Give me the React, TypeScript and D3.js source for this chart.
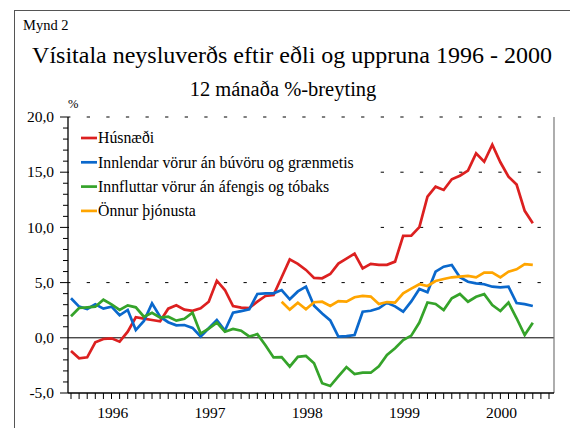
import React, { useEffect } from 'react';
import * as d3 from 'd3';

// ---- data (monthly, Jan 1996 – Oct 2000) ----
const years = ['1996', '1997', '1998', '1999', '2000'];
const monthTickCount = 60; // Jan 1996 – Dec 2000

const husnaedi = [
  -1.2, -1.85, -1.77, -0.41, -0.11, -0.05, -0.35, 0.55, 1.86, 1.73,
  1.61, 1.49, 2.64, 2.94, 2.55, 2.45, 2.67, 3.27, 5.17, 4.33,
  2.88, 2.73, 2.7, 3.27, 3.79, 3.87, 5.48, 7.1, 6.7, 6.15,
  5.42, 5.39, 5.78, 6.72, 7.17, 7.62, 6.28, 6.69, 6.6, 6.61,
  6.9, 9.23, 9.25, 10.03, 12.78, 13.69, 13.39, 14.36, 14.68, 15.14,
  16.71, 15.95, 17.5, 15.9, 14.6, 13.88, 11.5, 10.37,
];
const innlendar = [
  3.58, 2.82, 2.61, 3.03, 2.64, 2.82, 2.04, 2.52, 0.7, 1.52,
  3.12, 1.91, 1.41, 1.13, 1.16, 0.9, 0.12, 0.86, 1.6, 0.66,
  2.27, 2.42, 2.58, 3.97, 4.03, 4.03, 4.33, 3.49, 4.2, 4.63,
  2.9, 2.2, 1.58, 0.1, 0.15, 0.25, 2.36, 2.45, 2.67, 3.18,
  2.85, 2.36, 3.3, 4.42, 4.12, 5.99, 6.44, 6.6, 5.48, 5.08,
  4.93, 4.85, 4.63, 4.57, 4.63, 3.15, 3.05, 2.88,
];
const innfluttar = [
  1.95, 2.7, 2.76, 2.82, 3.45, 3.03, 2.52, 2.94, 2.76, 1.91,
  2.27, 1.82, 1.91, 1.55, 1.72, 2.27, 0.38, 0.83, 1.38, 0.55,
  0.8, 0.64, 0.12, 0.33, -0.68, -1.78, -1.75, -2.62, -1.72, -1.65,
  -2.3, -4.12, -4.37, -3.5, -2.65, -3.28, -3.16, -3.16, -2.58, -1.56,
  -0.95, -0.2, 0.2, 1.38, 3.2, 3.06, 2.52, 3.58, 3.97, 3.27,
  3.72, 3.95, 2.97, 2.43, 3.2, 1.77, 0.25, 1.37,
];
const onnur: (number | null)[] = [
  null, null, null, null, null, null, null, null, null, null,
  null, null, null, null, null, null, null, null, null, null,
  null, null, null, null, null, null, 3.27, 2.55, 3.18, 2.58,
  3.22, 3.27, 2.88, 3.33, 3.27, 3.67, 3.79, 3.73, 3.06, 3.24,
  3.18, 4.03, 4.45, 4.85, 4.69, 5.14, 5.33, 5.48, 5.54, 5.6,
  5.48, 5.9, 5.9, 5.48, 5.99, 6.2, 6.68, 6.6,
];

const seriesNames = [
  'Húsnæði',
  'Innlendar vörur án búvöru og grænmetis',
  'Innfluttar vörur án áfengis og tóbaks',
  'Önnur þjónusta',
];
const seriesColors = ['#dc2020', '#0a68cc', '#35a32a', '#ffa500'];
const seriesData: (number | null)[][] = [husnaedi, innlendar, innfluttar, onnur];

const yMajorTicks = [-5, 0, 5, 10, 15, 20];
const yGridDashed = [5, 10, 15, 20];

const FONT = 'Liberation Serif';

export default function App() {
  useEffect(() => {
    document.body.style.margin = '0';
  }, []);

  const W = 570;
  const H = 428;
  const left = 68;
  const right = 554;
  const top = 117;
  const bottom = 393;

  const x = d3.scaleLinear().domain([0, monthTickCount - 1]).range([71, 549]);
  const y = d3.scaleLinear().domain([-5, 20]).range([bottom, top]);

  const loc = d3.formatLocale({
    decimal: ',',
    thousands: '.',
    grouping: [3],
    currency: ['', ' kr'],
    minus: '-',
  });
  const fmt = loc.format('.1f');

  const line = d3
    .line<number | null>()
    .defined((d) => d != null)
    .x((_, i) => x(i))
    .y((d) => y(d as number));

  const minorTicks = d3.range(-5, 21, 1).filter((v) => v % 5 !== 0);
  const monthTicks = d3.range(monthTickCount);

  const legendRowY = (i: number) => 138 + i * 24.3;
  const ts = { fontFamily: FONT };

  return (
    <svg
      width={W}
      height={H}
      style={{ position: 'absolute', left: 0, top: 0, background: '#fff' }}
    >
      <rect x={0} y={0} width={W} height={H} fill="#fff" />
      {/* outer frame */}
      <rect x={14.5} y={10.5} width={700} height={600} fill="none" stroke="#555" strokeWidth={1} />

      {/* titles */}
      <text x={23} y={30} fontSize={14.5} fill="#000" style={ts}>Mynd 2</text>
      <text x={292} y={63} fontSize={24} textAnchor="middle" fill="#000" style={ts}>
        Vísitala neysluverðs eftir eðli og uppruna 1996 - 2000
      </text>
      <text x={283} y={96} fontSize={20.5} textAnchor="middle" fill="#000" style={ts}>
        12 mánaða %-breyting
      </text>
      <text x={68} y={108} fontSize={12.5} fill="#000" style={ts}>%</text>

      {/* dashed gridlines */}
      {yGridDashed.map((v) => (
        <line
          key={'g' + v}
          x1={left}
          x2={right}
          y1={y(v)}
          y2={y(v)}
          stroke="#000"
          strokeWidth={1}
          strokeDasharray="3.3 16.3"
          strokeDashoffset={0.9}
        />
      ))}

      {/* legend background */}
      <rect x={left + 1} y={122} width={310} height={110} fill="#fff" />

      {/* zero line */}
      <line x1={left} x2={right} y1={y(0)} y2={y(0)} stroke="#000" strokeWidth={1} />

      {/* right border */}
      <line x1={right} x2={right} y1={top} y2={bottom} stroke="#777" strokeWidth={1.2} />

      {/* series */}
      {seriesData.map((data, si) => (
        <path
          key={'s' + si}
          d={line(data) || ''}
          fill="none"
          stroke={seriesColors[si]}
          strokeWidth={2.7}
        />
      ))}

      {/* y axis */}
      <line x1={left} x2={left} y1={top} y2={bottom} stroke="#000" strokeWidth={1.3} />
      {minorTicks.map((v) => (
        <line key={'mt' + v} x1={left - 5} x2={left} y1={y(v)} y2={y(v)} stroke="#000" strokeWidth={1} />
      ))}
      {yMajorTicks.map((v) => (
        <g key={'yt' + v}>
          <line x1={left - 8} x2={left} y1={y(v)} y2={y(v)} stroke="#000" strokeWidth={1} />
          <text x={54} y={y(v)} dy="0.33em" fontSize={15.5} textAnchor="end" fill="#000" style={ts}>
            {fmt(v)}
          </text>
        </g>
      ))}

      {/* x axis */}
      <line x1={left} x2={right} y1={bottom} y2={bottom} stroke="#000" strokeWidth={1.3} />
      {monthTicks.map((m) => (
        <line key={'xt' + m} x1={x(m)} x2={x(m)} y1={bottom} y2={bottom + 6} stroke="#000" strokeWidth={1} />
      ))}
      {years.map((yr, k) => (
        <text key={yr} x={x(k * 12 + 5.15)} y={418} fontSize={15.5} textAnchor="middle" fill="#000" style={ts}>
          {yr}
        </text>
      ))}

      {/* legend */}
      {seriesNames.map((name, i) => (
        <g key={'lg' + i}>
          <line x1={81} x2={97} y1={legendRowY(i)} y2={legendRowY(i)} stroke={seriesColors[i]} strokeWidth={2.7} />
          <text x={98} y={legendRowY(i)} dy="0.33em" fontSize={15.8} fill="#000" style={ts}>
            {name}
          </text>
        </g>
      ))}
    </svg>
  );
}
